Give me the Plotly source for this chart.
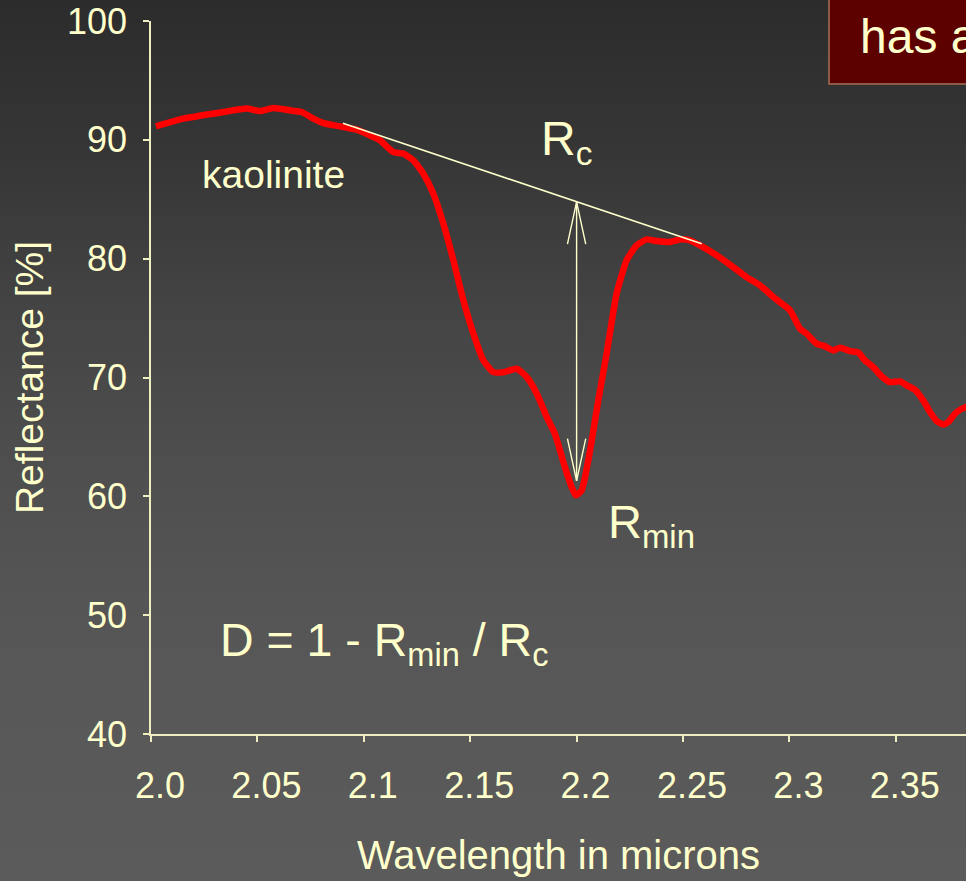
import numpy as np
import plotly.graph_objects as go

# ---------------- data ----------------
wavelength = [2.0023, 2.0152, 2.0340, 2.0450, 2.0512, 2.0575, 2.0653, 2.0708, 2.0763, 2.0810,
              2.0888, 2.0967, 2.1045, 2.1076, 2.1139, 2.1186, 2.1233, 2.1280, 2.1327, 2.1374,
              2.1421, 2.1468, 2.1515, 2.1562, 2.1609, 2.1656, 2.1719, 2.1766, 2.1813, 2.1860,
              2.1898, 2.1945, 2.1977, 2.1996, 2.2024, 2.2055, 2.2079, 2.2102, 2.2141, 2.2188,
              2.2235, 2.2282, 2.2329, 2.2376, 2.2439, 2.2486, 2.2533, 2.2580, 2.2658, 2.2736,
              2.2799, 2.2862, 2.2932, 2.3003, 2.3050, 2.3081, 2.3128, 2.3167, 2.3206, 2.3238,
              2.3285, 2.3324, 2.3355, 2.3394, 2.3434, 2.3473, 2.3520, 2.3551, 2.3590, 2.3629,
              2.3661, 2.3692, 2.3723, 2.3747, 2.3778, 2.3810, 2.3830, 2.3872]
reflectance = [91.14, 91.78, 92.34, 92.63, 92.42, 92.68, 92.48, 92.34, 91.78, 91.41,
               91.14, 90.86, 90.24, 89.96, 88.97, 88.84, 88.27, 87.15, 85.47, 82.95,
               79.86, 76.49, 73.69, 71.44, 70.45, 70.45, 70.74, 70.03, 68.64, 66.67,
               65.27, 62.46, 60.77, 60.08, 60.50, 63.02, 65.55, 68.07, 72.00, 77.05,
               79.86, 81.12, 81.62, 81.48, 81.40, 81.62, 81.54, 81.12, 80.28, 79.29,
               78.45, 77.75, 76.66, 75.65, 74.11, 73.69, 72.85, 72.62, 72.28, 72.51,
               72.22, 72.09, 71.44, 70.88, 70.09, 69.61, 69.67, 69.34, 68.97, 68.07,
               67.09, 66.33, 66.05, 66.25, 66.95, 67.37, 67.51, 67.80]

continuum_x = [2.0902, 2.2588]
continuum_y = [91.39, 81.26]
band_center = 2.2
r_c_value = 84.78
r_min_arrow = 61.3

x_tickvals = [2.0, 2.05, 2.1, 2.15, 2.2, 2.25, 2.3, 2.35]
x_ticktext = ["2.0", "2.05", "2.1", "2.15", "2.2", "2.25", "2.3", "2.35"]
y_tickvals = [40, 50, 60, 70, 80, 90, 100]

# ---------------- styling ----------------
FONT = "Arial, Liberation Sans, sans-serif"
CREAM = "#FFFFCC"
AXIS = "#EEEEC0"
W, H = 966, 881
ML, MR, MT, MB = 151, 0, 21, 147
PW, PH = W - ML - MR, H - MT - MB

fig = go.Figure()

fig.add_trace(go.Scatter(x=wavelength, y=reflectance, mode="lines",
                         line=dict(color="#FF0000", width=6.5, shape="spline", smoothing=0.5),
                         hoverinfo="skip", showlegend=False))
fig.add_trace(go.Scatter(x=continuum_x, y=continuum_y, mode="lines",
                         line=dict(color=CREAM, width=1.6), hoverinfo="skip", showlegend=False))

# double arrow between continuum and band minimum
fig.add_trace(go.Scatter(x=[band_center, band_center], y=[r_c_value, r_min_arrow], mode="lines",
                         line=dict(color=CREAM, width=1.4), hoverinfo="skip", showlegend=False))
head_dx, head_dy = 0.0043, 3.55
fig.add_trace(go.Scatter(x=[band_center - head_dx, band_center, band_center + head_dx],
                         y=[r_c_value - head_dy, r_c_value, r_c_value - head_dy], mode="lines",
                         line=dict(color=CREAM, width=1.4), hoverinfo="skip", showlegend=False))
fig.add_trace(go.Scatter(x=[band_center - head_dx, band_center, band_center + head_dx],
                         y=[r_min_arrow + head_dy, r_min_arrow, r_min_arrow + head_dy], mode="lines",
                         line=dict(color=CREAM, width=1.4), hoverinfo="skip", showlegend=False))

# background gradient (dark top -> lighter bottom)
shapes = []
grad_py = [0, 100, 200, 300, 400, 500, 600, 700, 881]
grad_g = [44, 50, 58, 67, 74, 80, 85, 88, 91]
step = 8
for py in range(0, H, step):
    g = int(round(np.interp(py + step / 2, grad_py, grad_g)))
    shapes.append(dict(type="rect", xref="paper", yref="paper",
                       x0=-ML / PW - 0.01, x1=1.01,
                       y0=(H - MB - (py + step + 1)) / PH, y1=(H - MB - py) / PH,
                       fillcolor=f"rgb({g},{g},{g})", line=dict(width=0), layer="below"))
# title box in the top-right corner
shapes.append(dict(type="rect", xref="paper", yref="paper",
                   x0=(829 - ML) / PW, x1=1.2, y0=(H - MB - 84) / PH, y1=1.2,
                   fillcolor="#5C0000", line=dict(color="#8E5A48", width=2), layer="above"))

annotations = [
    dict(x=2.0576, y=87.05, xref="x", yref="y", text="kaolinite", showarrow=False,
         font=dict(family=FONT, size=39, color=CREAM)),
    dict(x=2.1823, y=89.8, xref="x", yref="y", text="R<sub>c</sub>", showarrow=False,
         xanchor="left", font=dict(family=FONT, size=48, color=CREAM)),
    dict(x=2.2138, y=57.55, xref="x", yref="y", text="R<sub>min</sub>", showarrow=False,
         xanchor="left", font=dict(family=FONT, size=47, color=CREAM)),
    dict(x=2.0317, y=47.64, xref="x", yref="y", text="D = 1 - R<sub>min</sub> / R<sub>c</sub>",
         showarrow=False, xanchor="left", font=dict(family=FONT, size=46.5, color=CREAM)),
    dict(x=(858 - ML) / PW, y=(H - MB - 36.4) / PH, xref="paper", yref="paper", text="has a",
         showarrow=False, xanchor="left", yanchor="middle",
         font=dict(family=FONT, size=48, color=CREAM)),
]

fig.update_layout(
    width=W, height=H,
    margin=dict(l=ML, r=MR, t=MT, b=MB),
    paper_bgcolor="#474747", plot_bgcolor="rgba(0,0,0,0)",
    font=dict(family=FONT, color=CREAM),
    shapes=shapes, annotations=annotations,
    showlegend=False,
    xaxis=dict(range=[2.0, 2.383], tickvals=x_tickvals, ticktext=x_ticktext,
               showline=True, linecolor=AXIS, linewidth=1.5, showgrid=False, zeroline=False,
               ticks="outside", ticklen=6, tickwidth=1.5, tickcolor=AXIS,
               tickfont=dict(family=FONT, size=36, color=CREAM),
               ticklabelstandoff=13, ticklabelshift=9,
               title=dict(text="Wavelength in microns", standoff=36,
                          font=dict(family=FONT, size=40, color=CREAM)),
               automargin=False, fixedrange=True),
    yaxis=dict(range=[40, 100], tickvals=y_tickvals,
               showline=True, linecolor=AXIS, linewidth=1.5, showgrid=False, zeroline=False,
               ticks="outside", ticklen=6, tickwidth=1.5, tickcolor=AXIS,
               tickfont=dict(family=FONT, size=36, color=CREAM),
               ticklabelstandoff=9,
               title=dict(text="Reflectance [%]", standoff=11,
                          font=dict(family=FONT, size=39, color=CREAM)),
               automargin=False, fixedrange=True),
)

fig.write_html("out.html")
